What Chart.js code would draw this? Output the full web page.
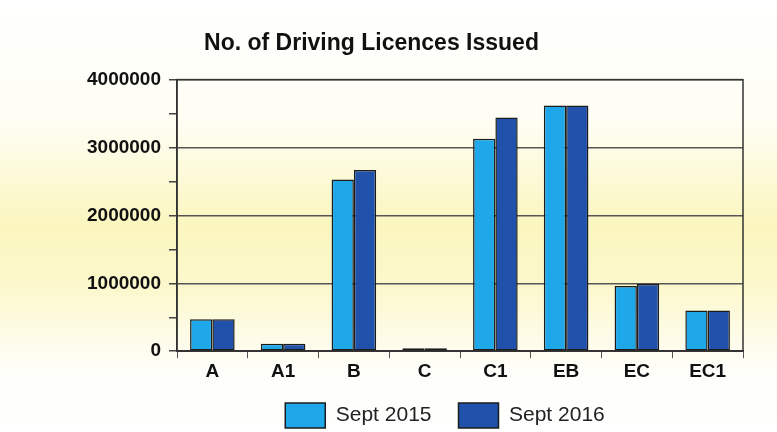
<!DOCTYPE html>
<html>
<head>
<meta charset="utf-8">
<script src="https://cdn.jsdelivr.net/npm/chart.js@4/dist/chart.umd.min.js"></script>
<style>
  html, body { margin: 0; padding: 0; background: #fff; }
  #wrap { width: 777px; height: 432px; }
</style>
</head>
<body>
<div id="wrap"><canvas id="licences"></canvas></div>
<script>
// categories and values
const categories = ["A", "A1", "B", "C", "C1", "EB", "EC", "EC1"];
const sept2015 = [470000, 110000, 2530000, 20000, 3130000, 3620000, 960000, 600000];
const sept2016 = [470000, 110000, 2670000, 20000, 3440000, 3620000, 990000, 600000];
const yTicks = [0, 1000000, 2000000, 3000000, 4000000];

const FONT = "'Liberation Sans', Arial, sans-serif";

// yellowish paper background + box around the plot
const paper = {
    id: "paper",
    afterLayout(chart) {
        // nudge the legend a bit up and left, like in the scan
        const lg = chart.legend;
        lg.top -= 9;
        lg.bottom -= 9;
        lg.left -= 30;
    },
    beforeDraw(chart) {
        const c = chart.ctx;
        const g = c.createLinearGradient(0, 0, 0, chart.height);
        g.addColorStop(0, "#ffffff");
        g.addColorStop(0.28, "#fefef4");
        g.addColorStop(0.52, "#fbf6bf");
        g.addColorStop(0.66, "#fcf8cc");
        g.addColorStop(0.86, "#fefefa");
        g.addColorStop(1, "#ffffff");
        c.save();
        c.fillStyle = g;
        c.fillRect(0, 0, chart.width, chart.height);
        c.restore();
    },
    beforeDatasetsDraw(chart) {
        const a = chart.chartArea;
        const c = chart.ctx;
        c.save();
        c.strokeStyle = "#333";
        c.lineWidth = 1.5;
        c.strokeRect(a.left, a.top, a.right - a.left, a.bottom - a.top);
        c.restore();
    }
};

new Chart(document.getElementById("licences"), {
    type: "bar",
    data: {
        labels: categories,
        datasets: [
            {
                label: "Sept 2015",
                data: sept2015,
                backgroundColor: "#1ea8ea",
                borderColor: "#1c1c1c",
                borderWidth: 1.5,
                borderSkipped: false,
                minBarLength: 3
            },
            {
                label: "Sept 2016",
                data: sept2016,
                backgroundColor: "#2052ab",
                borderColor: "#1c1c1c",
                borderWidth: 1.5,
                borderSkipped: false,
                minBarLength: 3
            }
        ]
    },
    options: {
        responsive: true,
        maintainAspectRatio: false,
        animation: false,
        layout: { padding: { top: 30, right: 34, bottom: -15, left: 0 } },
        datasets: { bar: { categoryPercentage: 0.63, barPercentage: 1.0 } },
        plugins: {
            title: {
                display: true,
                text: "No. of Driving Licences Issued",
                color: "#111",
                font: { family: FONT, size: 23, weight: "bold" },
                padding: { top: 0, bottom: 22 }
            },
            legend: {
                position: "bottom",
                fullSize: false,
                labels: {
                    boxWidth: 40,
                    boxHeight: 25,
                    padding: 27,
                    color: "#222",
                    font: { family: FONT, size: 21 }
                }
            },
            tooltip: { enabled: false }
        },
        scales: {
            x: {
                border: { color: "#333", width: 1.5 },
                grid: {
                    drawOnChartArea: false,
                    tickLength: 7,
                    tickColor: "#555",
                    offset: true
                },
                ticks: {
                    color: "#111",
                    padding: 2,
                    font: { family: FONT, size: 19, weight: "bold" }
                }
            },
            y: {
                min: 0,
                max: 4000000,
                border: { color: "#333", width: 1.5 },
                afterFit(scale) { scale.width = 177; },
                grid: {
                    color: ctx => yTicks.includes(ctx.tick.value) ? "#555" : "transparent",
                    lineWidth: 1.5,
                    tickLength: 8,
                    tickColor: "#444"
                },
                ticks: {
                    stepSize: 500000,
                    color: "#111",
                    padding: 8,
                    font: { family: FONT, size: 19, weight: "bold" },
                    callback: v => yTicks.includes(v) ? String(v) : ""
                }
            }
        }
    },
    plugins: [paper]
});
</script>
</body>
</html>
